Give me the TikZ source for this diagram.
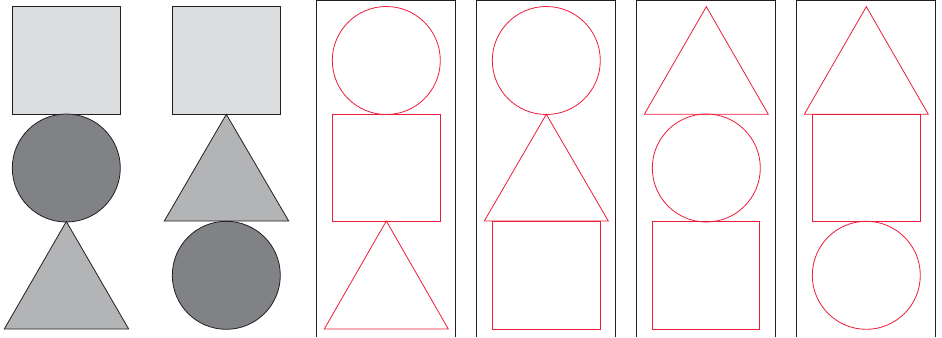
\documentclass[tikz,border=0pt]{standalone}
\definecolor{sqgray}{HTML}{DCDDDF}
\definecolor{cigray}{HTML}{808285}
\definecolor{trgray}{HTML}{B3B4B6}
\definecolor{edge}{HTML}{231F20}
\definecolor{shred}{HTML}{ED1C3A}
\begin{document}
\begin{tikzpicture}[x=0.75pt,y=-0.75pt,
  filled/.style={draw=edge,line width=0.6pt},
  outl/.style={draw=shred,line width=0.6pt},
  frame/.style={draw=edge,line width=0.9pt},
  rad/.style={radius=40.5pt}]
\useasboundingbox (0,0) rectangle (942,337);
% panel 1
\path[filled,fill=sqgray] (12.3,6.7) rectangle (120.3,114.3);
\path[filled,fill=cigray] (66.3,168) circle[rad];
\path[filled,fill=trgray] (66.3,221.5) -- (128.7,329) -- (4.3,329) -- cycle;
% panel 2
\path[filled,fill=sqgray] (172.7,6.7) rectangle (280.3,114.3);
\path[filled,fill=trgray] (226.3,114.3) -- (288.7,221) -- (164.3,221) -- cycle;
\path[filled,fill=cigray] (226.3,275.3) circle[rad];
% frames
\draw[frame] (316.3,337) -- (316.3,0.6) -- (455.7,0.6) -- (455.7,337);
\draw[frame] (476.3,337) -- (476.3,0.6) -- (615.7,0.6) -- (615.7,337);
\draw[frame] (636.3,337) -- (636.3,0.6) -- (775.7,0.6) -- (775.7,337);
\draw[frame] (796.3,337) -- (796.3,0.6) -- (935.3,0.6) -- (935.3,337);
% panel 3
\path[outl] (386.3,60.5) circle[rad];
\path[outl] (332.3,114.3) rectangle (440.3,221);
\path[outl] (386.3,221) -- (448.3,329) -- (324.3,329) -- cycle;
% panel 4
\path[outl] (546.3,60.5) circle[rad];
\path[outl] (546.3,114.3) -- (608.3,221) -- (484.3,221) -- cycle;
\path[outl] (492.3,221) rectangle (600.3,329);
% panel 5
\path[outl] (706.3,6.7) -- (768.3,114.3) -- (644.3,114.3) -- cycle;
\path[outl] (706.3,168) circle[rad];
\path[outl] (652.3,221) rectangle (759.7,329);
% panel 6
\path[outl] (866.3,6.7) -- (928.3,114.3) -- (804.3,114.3) -- cycle;
\path[outl] (812.3,114.3) rectangle (920,221);
\path[outl] (866.3,275.3) circle[rad];
\end{tikzpicture}
\end{document}
